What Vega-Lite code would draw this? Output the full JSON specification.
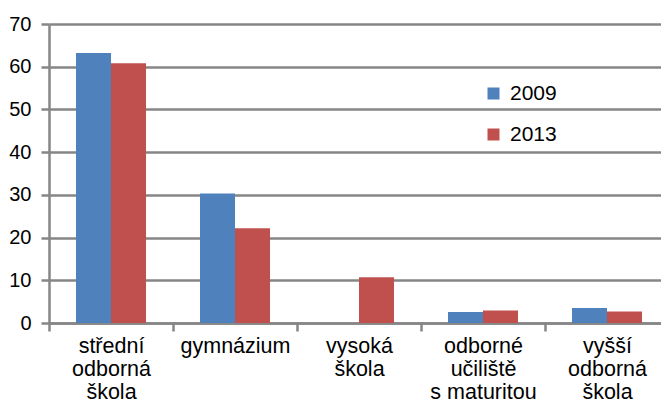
{
  "$schema": "https://vega.github.io/schema/vega-lite/v6.json",
  "autosize": "none",
  "width": 612,
  "height": 299,
  "padding": {"left": 49, "top": 24, "right": 0, "bottom": 82},
  "background": "white",
  "config": {
    "view": {"stroke": null},
    "font": "Liberation Sans"
  },
  "data": {
    "values": [
      {"typ": "střední\nodborná\nškola", "rok": "2009", "podil": 63.2},
      {"typ": "střední\nodborná\nškola", "rok": "2013", "podil": 60.8},
      {"typ": "gymnázium", "rok": "2009", "podil": 30.3},
      {"typ": "gymnázium", "rok": "2013", "podil": 22.2},
      {"typ": "vysoká\nškola", "rok": "2013", "podil": 10.7},
      {"typ": "odborné\nučiliště\ns maturitou", "rok": "2009", "podil": 2.6},
      {"typ": "odborné\nučiliště\ns maturitou", "rok": "2013", "podil": 2.9},
      {"typ": "vyšší\nodborná\nškola", "rok": "2009", "podil": 3.5},
      {"typ": "vyšší\nodborná\nškola", "rok": "2013", "podil": 2.7}
    ]
  },
  "mark": {"type": "bar"},
  "encoding": {
    "x": {
      "field": "typ",
      "type": "nominal",
      "sort": null,
      "scale": {"range": [0, 620], "paddingInner": 0, "paddingOuter": 0},
      "axis": {
        "title": null,
        "labelAngle": 0,
        "labelExpr": "split(datum.label, '\\n')",
        "labelFontSize": 21.5,
        "labelColor": "#000000",
        "labelLineHeight": 23,
        "labelPadding": 4,
        "labelBaseline": "top",
        "tickBand": "extent",
        "tickSize": 8,
        "tickWidth": 2.5,
        "tickColor": "#868686",
        "domainColor": "#868686",
        "domainWidth": 2.5,
        "grid": false
      }
    },
    "xOffset": {
      "field": "rok",
      "type": "nominal",
      "scale": {"domain": ["2009", "2013"], "paddingInner": 0, "paddingOuter": 0.771}
    },
    "y": {
      "field": "podil",
      "type": "quantitative",
      "scale": {"domain": [0, 70], "nice": false},
      "axis": {
        "title": null,
        "values": [0, 10, 20, 30, 40, 50, 60, 70],
        "labelFontSize": 20,
        "labelColor": "#000000",
        "labelPadding": 10,
        "tickSize": 8,
        "tickWidth": 2.5,
        "tickColor": "#868686",
        "domainColor": "#868686",
        "domainWidth": 2.5,
        "grid": true,
        "gridColor": "#868686",
        "gridWidth": 2.5
      }
    },
    "color": {
      "field": "rok",
      "type": "nominal",
      "scale": {"domain": ["2009", "2013"], "range": ["#4F81BD", "#C0504D"]},
      "legend": {
        "title": null,
        "orient": "none",
        "legendX": 434,
        "legendY": 59,
        "symbolType": "square",
        "symbolSize": 144,
        "symbolStrokeWidth": 0,
        "labelFontSize": 21,
        "labelColor": "#000000",
        "labelOffset": 6,
        "rowPadding": 19
      }
    }
  }
}
